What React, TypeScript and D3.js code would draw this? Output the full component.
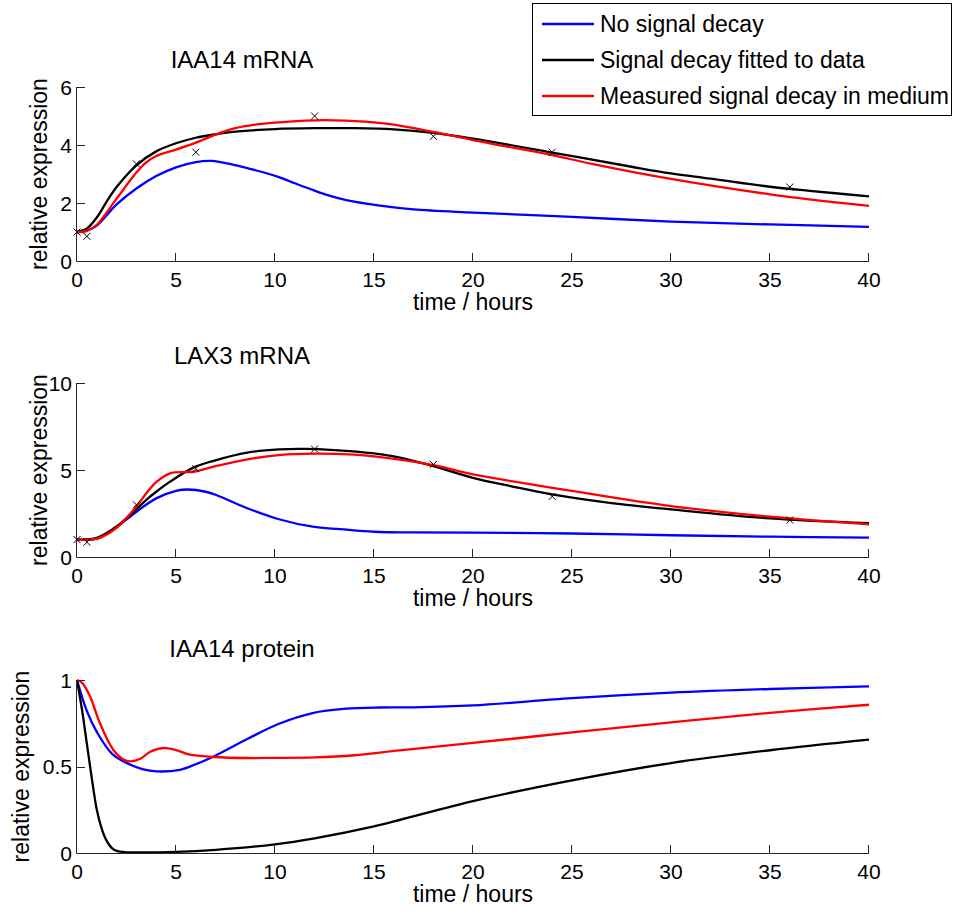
import React from "react";
import * as d3 from "d3";

// ---------- data ----------
const xTicks = [0, 5, 10, 15, 20, 25, 30, 35, 40];
const panelTitles = ["IAA14 mRNA", "LAX3 mRNA", "IAA14 protein"];
const yTicksTop = [0, 2, 4, 6];
const yTicksMid = [0, 5, 10];
const yTicksBot = [0, 0.5, 1];
const yMaxes = [6, 10, 1];
const legendLabels = ["No signal decay", "Signal decay fitted to data", "Measured signal decay in medium"];
const seriesColors = ["#0000ff", "#000000", "#ff0000"];

const markerT = [0, 0.5, 3, 6, 12, 18, 24, 36];
const markersTop = [1.0, 0.85, 3.35, 3.75, 5.0, 4.3, 3.75, 2.55];
const markersMid = [1.0, 0.85, 3.0, 5.08, 6.2, 5.32, 3.48, 2.12];

// top panel: IAA14 mRNA
const blueTop: [number, number][] = [[0,1],[0.5,1.05],[1,1.22],[2,1.95],[3,2.5],[4,2.93],[5,3.23],[6,3.41],[6.8,3.45],[7.7,3.35],[8.6,3.2],[9.4,3.06],[10.2,2.89],[11,2.68],[11.9,2.45],[12.7,2.26],[13.6,2.1],[15.3,1.91],[17,1.78],[20,1.67],[25,1.52],[30,1.36],[35,1.26],[40,1.18]];
const blackTop: [number, number][] = [[0,1],[0.5,1.12],[1,1.5],[1.5,2.05],[2,2.55],[3,3.3],[4,3.78],[5,4.06],[6,4.25],[7,4.37],[8,4.46],[10,4.55],[12,4.58],[14,4.58],[16,4.54],[18,4.42],[20,4.22],[24,3.74],[28,3.25],[30,3.02],[32,2.84],[35,2.56],[37,2.42],[40,2.23]];
const redTop: [number, number][] = [[0,1],[0.5,1.04],[1,1.25],[2,2.15],[3,3.05],[3.5,3.4],[4,3.62],[5,3.84],[6,4.08],[7,4.36],[8,4.58],[9,4.7],[10,4.77],[12,4.85],[13,4.85],[15,4.78],[16,4.7],[18,4.45],[20,4.17],[24,3.65],[26,3.35],[30,2.83],[35,2.3],[40,1.9]];

// middle panel: LAX3 mRNA
const blueMid: [number, number][] = [[0,1],[1,1.05],[2,1.72],[3,2.6],[4,3.37],[5,3.8],[5.6,3.88],[6.5,3.75],[7,3.58],[8.6,2.8],[10.2,2.17],[11.9,1.74],[13.3,1.6],[15,1.45],[17,1.41],[20,1.4],[25,1.35],[30,1.25],[35,1.17],[40,1.11]];
const blackMid: [number, number][] = [[0,1],[1,1.1],[2,1.75],[3,2.75],[3.5,3.28],[4,3.75],[4.7,4.33],[5.9,5.15],[6.9,5.53],[8.6,6.0],[10.2,6.18],[11.5,6.21],[13,6.14],[15,5.95],[16,5.78],[18,5.22],[20,4.55],[22,4.05],[24,3.6],[27,3.1],[30,2.74],[35,2.22],[40,1.94]];
const redMid: [number, number][] = [[0,1],[1,1.05],[2,1.68],[3,2.9],[3.5,3.66],[4,4.3],[4.7,4.81],[5.9,4.9],[6.9,5.19],[8.6,5.61],[10.2,5.86],[12,5.94],[14,5.88],[15,5.78],[18,5.28],[20,4.75],[25,3.8],[30,2.93],[35,2.32],[40,1.88]];

// bottom panel: IAA14 protein
const blueBot: [number, number][] = [[0,1],[0.5,0.82],[1,0.7],[1.8,0.57],[2.7,0.51],[3.3,0.485],[4,0.472],[5.2,0.481],[6,0.513],[6.9,0.558],[8.6,0.659],[10.2,0.747],[11.9,0.809],[13.6,0.834],[15.3,0.841],[17,0.842],[20,0.853],[25,0.895],[30,0.927],[35,0.948],[40,0.963]];
const blackBot: [number, number][] = [[0,1],[0.25,0.83],[0.5,0.63],[0.75,0.43],[1,0.25],[1.25,0.14],[1.5,0.07],[1.75,0.03],[2,0.012],[2.5,0.004],[3,0.003],[5,0.006],[7,0.018],[10,0.05],[12,0.085],[15,0.154],[20,0.3],[25,0.42],[30,0.52],[35,0.594],[40,0.655]];
const redBot: [number, number][] = [[0,1],[0.25,0.985],[0.66,0.905],[1.16,0.75],[1.83,0.597],[2.35,0.54],[2.7,0.53],[3.2,0.545],[3.7,0.585],[4.36,0.607],[5,0.595],[5.7,0.568],[6.9,0.555],[8.6,0.549],[10,0.55],[12,0.553],[14,0.565],[16.3,0.593],[20,0.636],[25,0.697],[30,0.755],[35,0.81],[40,0.857]];

// ---------- layout ----------
const W = 961, H = 914;
const X0 = 77, X1 = 869;
const panelY = [
  { top: 87, bottom: 261, ylabelX: 47 },
  { top: 383, bottom: 557, ylabelX: 47 },
  { top: 680, bottom: 853, ylabelX: 29 },
];
const FONT = "'Liberation Sans', Arial, Helvetica, sans-serif";

const panels = [
  { title: panelTitles[0], yTicks: yTicksTop, yMax: yMaxes[0], series: [blueTop, blackTop, redTop], markers: markersTop },
  { title: panelTitles[1], yTicks: yTicksMid, yMax: yMaxes[1], series: [blueMid, blackMid, redMid], markers: markersMid },
  { title: panelTitles[2], yTicks: yTicksBot, yMax: yMaxes[2], series: [blueBot, blackBot, redBot], markers: null as number[] | null },
];

export default function App() {
  const x = d3.scaleLinear().domain([0, 40]).range([X0, X1]);
  return (
    <svg width={W} height={H} style={{ position: "absolute", left: 0, top: 0, background: "#fff" }} fontFamily={FONT}>
      <rect x={0} y={0} width={W} height={H} fill="#fff" />
      {panels.map((p, i) => {
        const { top, bottom, ylabelX } = panelY[i];
        const y = d3.scaleLinear().domain([0, p.yMax]).range([bottom, top]);
        const line = d3.line<[number, number]>().x(d => x(d[0])).y(d => Math.min(bottom, y(d[1]))).curve(d3.curveCatmullRom.alpha(0.5));
        return (
          <g key={i}>
            {/* title */}
            <text x={242} y={top - 19 - (i === 2 ? 4 : 0)} fontSize={24} textAnchor="middle" fill="#000">{p.title}</text>
            {/* series */}
            {p.series.map((s, k) => (
              <path key={k} d={line(s) || ""} fill="none" stroke={seriesColors[k]} strokeWidth={2.3} strokeLinejoin="round" />
            ))}
            {/* markers */}
            {p.markers && p.markers.map((v, k) => {
              const cx = x(markerT[k]), cy = y(v), r = 3.5;
              return (
                <path key={k} d={`M${cx - r},${cy - r}L${cx + r},${cy + r}M${cx - r},${cy + r}L${cx + r},${cy - r}`} stroke="#000" strokeWidth={1} fill="none" />
              );
            })}
            {/* axes */}
            <line x1={X0 - 0.5} x2={X1} y1={bottom + 0.5} y2={bottom + 0.5} stroke="#262626" strokeWidth={1} />
            <line x1={X0 - 0.5} x2={X0 - 0.5} y1={top} y2={bottom + 0.5} stroke="#262626" strokeWidth={1} />
            {xTicks.map(t => (
              <g key={t}>
                <line x1={Math.round(x(t)) - 0.5} x2={Math.round(x(t)) - 0.5} y1={bottom} y2={bottom - 8} stroke="#262626" strokeWidth={1} />
                <text x={x(t)} y={bottom + 26} fontSize={21} textAnchor="middle" fill="#000">{t}</text>
              </g>
            ))}
            {p.yTicks.map(t => (
              <g key={t}>
                <line x1={X0} x2={X0 + 8} y1={Math.round(y(t)) + 0.5} y2={Math.round(y(t)) + 0.5} stroke="#262626" strokeWidth={1} />
                <text x={72} y={y(t)} dy="0.36em" fontSize={21} textAnchor="end" fill="#000">{t}</text>
              </g>
            ))}
            <text x={(X0 + X1) / 2} y={bottom + 49} fontSize={23} textAnchor="middle" fill="#000">time / hours</text>
            <text transform={`translate(${ylabelX},${(top + bottom) / 2}) rotate(-90)`} fontSize={23} textAnchor="middle" fill="#000">relative expression</text>
          </g>
        );
      })}
      {/* legend */}
      <g>
        <rect x={532.5} y={3.5} width={419} height={112} fill="#fff" stroke="#000" strokeWidth={1} />
        {legendLabels.map((lab, k) => {
          const cy = 24 + k * 36;
          return (
            <g key={k}>
              <line x1={542} x2={594} y1={cy} y2={cy} stroke={seriesColors[k]} strokeWidth={2.3} />
              <text x={600} y={cy} dy="0.36em" fontSize={23} fill="#000">{lab}</text>
            </g>
          );
        })}
      </g>
    </svg>
  );
}
